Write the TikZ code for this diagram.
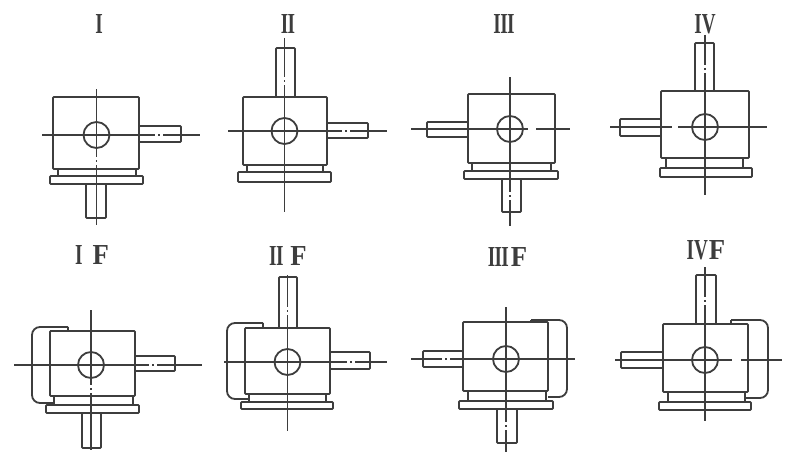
\documentclass[tikz,border=0pt]{standalone}
\usepackage{fontspec}
\setmainfont{Liberation Serif}
\usepackage{graphicx}
\tikzset{
  part/.style={draw=ink,line width=1.8pt,line join=round,rounded corners=0.8pt},
  cline/.style={draw=ink,line width=1.1pt},
  dline/.style={draw=ink,line width=1.1pt,dash pattern=on 7pt off 3pt on 2pt off 3pt},
  tag/.style={font=\fontsize{29}{29}\selectfont\bfseries,text=ink,inner sep=0pt,anchor=center},
}
\definecolor{ink}{gray}{0.24}
\newcommand{\gearbody}[6]{%
  \draw[part] (#1,#2) rectangle (#3,#4);
  \draw[part] (#5,#6) circle (13);
}
\newcommand{\gearbase}[7]{% top, neckL, neckR, neckB, flL, flR, flB
  \draw[part] (#2,#1) -- (#2,#4) (#3,#1) -- (#3,#4);
  \draw[part] (#5,#4) rectangle (#6,#7);
}
\newcommand{\romantag}[4]{\node[tag] (#1) at (#2,#3) {\scalebox{.66}[1]{#4}};}
\newcommand{\flangetag}[5]{\node[tag] (#1) at (#2,#3) {\scalebox{.66}[1]{#4}\kern#5pt\scalebox{.92}[1]{F}};}
\newcommand{\nk}{\kern-1pt }
\begin{document}
\begin{tikzpicture}[x=1pt,y=-1pt]
\useasboundingbox[fill=white] (0,0) rectangle (792,452);
% --- I
\romantag{t1}{99}{24}{I}
\gearbody{53}{97}{139}{169}{96.5}{135}
\gearbase{169}{58}{136}{176}{50}{143}{184}
\draw[part] (139,126) rectangle (181,142);
\draw[part] (86,184) rectangle (106,218);
\draw[cline] (42,135) -- (148,135) (168,135) -- (200,135);
\draw[dline] (148,135) -- (168,135);
\draw[cline] (96.5,89) -- (96.5,150) (96.5,168) -- (96.5,225);
\draw[dline] (96.5,150) -- (96.5,168);
% --- II
\romantag{t2}{288}{24}{I\nk I}
\gearbody{243}{97}{327}{165}{284.5}{131}
\gearbase{165}{247}{323}{172}{238}{331}{182}
\draw[part] (327,123) rectangle (368,138);
\draw[part] (276,48) rectangle (295,97);
\draw[cline] (228,131) -- (335,131) (355,131) -- (387,131);
\draw[dline] (335,131) -- (355,131);
\draw[cline] (284.5,38) -- (284.5,70) (284.5,90) -- (284.5,212);
\draw[dline] (284.5,70) -- (284.5,90);
% --- III
\romantag{t3}{504}{24}{I\nk I\nk I}
\gearbody{468}{94}{555}{163}{510}{129}
\gearbase{163}{472}{551}{171}{464}{558}{179}
\draw[part] (427,122) rectangle (468,137);
\draw[part] (502,179) rectangle (521,212);
\draw[cline] (411,129) -- (528,129) (536,129) -- (570,129);
\draw[cline] (510,77) -- (510,185) (510,205) -- (510,226);
\draw[dline] (510,185) -- (510,205);
% --- IV
\romantag{t4}{705}{24}{IV}
\gearbody{661}{91}{749}{158}{705}{127}
\gearbase{158}{666}{743}{168}{660}{752}{177}
\draw[part] (620,119) rectangle (661,136);
\draw[part] (695,43) rectangle (714,91);
\draw[cline] (610,127) -- (672,127) (678,127) -- (767,127);
\draw[cline] (705,35) -- (705,58) (705,78) -- (705,195);
\draw[dline] (705,58) -- (705,78);
% --- I F
\flangetag{t5}{92}{255}{I}{10}
\gearbody{50}{331}{135}{396}{91}{365}
\gearbase{396}{54}{133}{405}{46}{139}{413}
\draw[part] (135,356) rectangle (175,371);
\draw[part] (82,413) rectangle (101,448);
\draw[part,rounded corners=8pt] (68,327) -- (32,327) -- (32,403) -- (54,403);
\draw[part] (50,331) -- (68,331) -- (68,327);
\draw[cline] (14,365) -- (142,365) (164,365) -- (202,365);
\draw[dline] (142,365) -- (164,365);
\draw[cline] (91,310) -- (91,378) (91,398) -- (91,450);
\draw[dline] (91,378) -- (91,398);
% --- II F
\flangetag{t6}{288}{256}{I\nk I}{7}
\gearbody{245}{328}{330}{394}{287.5}{362}
\gearbase{394}{249}{326}{402}{241}{333}{409}
\draw[part] (330,352) rectangle (370,369);
\draw[part] (279,277) rectangle (297,328);
\draw[part,rounded corners=8pt] (263,323) -- (227,323) -- (227,399) -- (249,399);
\draw[part] (245,328) -- (263,328) -- (263,323);
\draw[cline] (224,362) -- (340,362) (362,362) -- (387,362);
\draw[dline] (340,362) -- (362,362);
\draw[cline] (287.5,275) -- (287.5,300) (287.5,320) -- (287.5,431);
\draw[dline] (287.5,300) -- (287.5,320);
% --- III F
\flangetag{t7}{507.5}{257}{I\nk I\nk I}{2}
\gearbody{463}{322}{548}{391}{506}{359}
\gearbase{391}{468}{546}{401}{459}{553}{409}
\draw[part] (423,351) rectangle (463,367);
\draw[part] (497,409) rectangle (517,443);
\draw[part,rounded corners=8pt] (531,320) -- (567,320) -- (567,397) -- (548,397);
\draw[part] (531,320) -- (531,322);
\draw[cline] (411,359) -- (435,359) (455,359) -- (575,359);
\draw[dline] (435,359) -- (455,359);
\draw[cline] (506,307) -- (506,415) (506,435) -- (506,452);
\draw[dline] (506,415) -- (506,435);
% --- IV F
\flangetag{t8}{706}{250}{IV}{1}
\gearbody{663}{324}{748}{392}{705}{360}
\gearbase{392}{668}{745}{402}{659}{751}{410}
\draw[part] (621,352) rectangle (663,368);
\draw[part] (696,275) rectangle (716,324);
\draw[part,rounded corners=8pt] (731,320) -- (768,320) -- (768,398) -- (745,398);
\draw[part] (731,320) -- (731,324);
\draw[cline] (615,360) -- (732,360) (741,360) -- (782,360);
\draw[cline] (705,267) -- (705,290) (705,310) -- (705,421);
\draw[dline] (705,290) -- (705,310);
\end{tikzpicture}
\end{document}
